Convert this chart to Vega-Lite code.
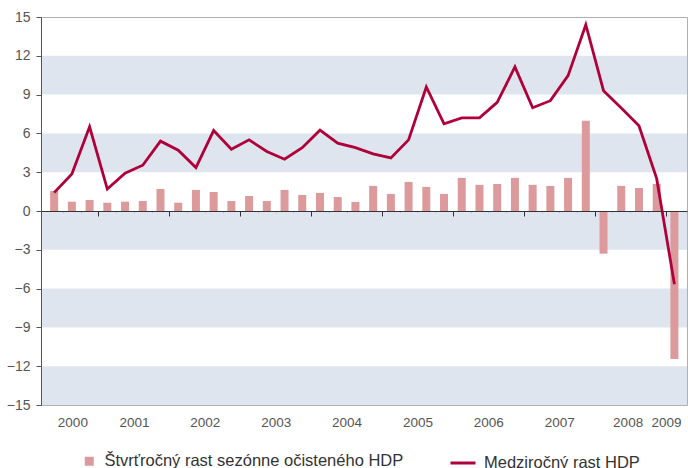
{
  "$schema": "https://vega.github.io/schema/vega-lite/v6.json",
  "autosize": {"type": "none"},
  "width": 646,
  "height": 388,
  "padding": {"left": 41, "top": 17, "right": 1, "bottom": 63},
  "background": "white",
  "config": {
    "font": "Liberation Sans, sans-serif",
    "view": {"stroke": "#b0b0b0", "strokeWidth": 1},
    "axisY": {"labelOverlap": false, "labelFlush": false}
  },
  "datasets": {
    "gdp": [
      {"t": 2000.375, "period": "2000 Q2", "qoq": 1.55, "yoy": 1.42},
      {"t": 2000.625, "period": "2000 Q3", "qoq": 0.72, "yoy": 2.87},
      {"t": 2000.875, "period": "2000 Q4", "qoq": 0.85, "yoy": 6.51},
      {"t": 2001.125, "period": "2001 Q1", "qoq": 0.64, "yoy": 1.7},
      {"t": 2001.375, "period": "2001 Q2", "qoq": 0.72, "yoy": 2.92},
      {"t": 2001.625, "period": "2001 Q3", "qoq": 0.77, "yoy": 3.54},
      {"t": 2001.875, "period": "2001 Q4", "qoq": 1.7, "yoy": 5.4},
      {"t": 2002.125, "period": "2002 Q1", "qoq": 0.64, "yoy": 4.7},
      {"t": 2002.375, "period": "2002 Q2", "qoq": 1.63, "yoy": 3.36},
      {"t": 2002.625, "period": "2002 Q3", "qoq": 1.47, "yoy": 6.22},
      {"t": 2002.875, "period": "2002 Q4", "qoq": 0.77, "yoy": 4.78},
      {"t": 2003.125, "period": "2003 Q1", "qoq": 1.16, "yoy": 5.5},
      {"t": 2003.375, "period": "2003 Q2", "qoq": 0.77, "yoy": 4.6},
      {"t": 2003.625, "period": "2003 Q3", "qoq": 1.63, "yoy": 4.0},
      {"t": 2003.875, "period": "2003 Q4", "qoq": 1.24, "yoy": 4.9},
      {"t": 2004.125, "period": "2004 Q1", "qoq": 1.4, "yoy": 6.25},
      {"t": 2004.375, "period": "2004 Q2", "qoq": 1.08, "yoy": 5.25},
      {"t": 2004.625, "period": "2004 Q3", "qoq": 0.7, "yoy": 4.9},
      {"t": 2004.875, "period": "2004 Q4", "qoq": 1.94, "yoy": 4.42},
      {"t": 2005.125, "period": "2005 Q1", "qoq": 1.32, "yoy": 4.1},
      {"t": 2005.375, "period": "2005 Q2", "qoq": 2.25, "yoy": 5.5},
      {"t": 2005.625, "period": "2005 Q3", "qoq": 1.86, "yoy": 9.59},
      {"t": 2005.875, "period": "2005 Q4", "qoq": 1.32, "yoy": 6.74},
      {"t": 2006.125, "period": "2006 Q1", "qoq": 2.56, "yoy": 7.2},
      {"t": 2006.375, "period": "2006 Q2", "qoq": 2.02, "yoy": 7.2},
      {"t": 2006.625, "period": "2006 Q3", "qoq": 2.09, "yoy": 8.4},
      {"t": 2006.875, "period": "2006 Q4", "qoq": 2.56, "yoy": 11.14},
      {"t": 2007.125, "period": "2007 Q1", "qoq": 2.02, "yoy": 7.98},
      {"t": 2007.375, "period": "2007 Q2", "qoq": 1.94, "yoy": 8.53},
      {"t": 2007.625, "period": "2007 Q3", "qoq": 2.56, "yoy": 10.47},
      {"t": 2007.875, "period": "2007 Q4", "qoq": 6.98, "yoy": 14.4},
      {"t": 2008.125, "period": "2008 Q1", "qoq": -3.3, "yoy": 9.3},
      {"t": 2008.375, "period": "2008 Q2", "qoq": 1.94, "yoy": 7.96},
      {"t": 2008.625, "period": "2008 Q3", "qoq": 1.78, "yoy": 6.59},
      {"t": 2008.875, "period": "2008 Q4", "qoq": 2.09, "yoy": 2.5},
      {"t": 2009.125, "period": "2009 Q1", "qoq": -11.45, "yoy": -5.66}
    ],
    "bands": [
      {"lo": 9, "hi": 12},
      {"lo": 3, "hi": 6},
      {"lo": -3, "hi": 0},
      {"lo": -9, "hi": -6},
      {"lo": -15, "hi": -12}
    ]
  },
  "layer": [
    {
      "data": {"name": "bands"},
      "mark": {"type": "rect", "color": "#dfe5ee"},
      "encoding": {
        "y": {
          "field": "lo",
          "type": "quantitative",
          "scale": {"domain": [-15, 15], "nice": false, "zero": false},
          "axis": {
            "title": null,
            "orient": "left",
            "values": [-15, -12, -9, -6, -3, 0, 3, 6, 9, 12, 15],
            "grid": false,
            "zindex": 1,
            "domainColor": "#555555",
            "tickColor": "#555555",
            "tickSize": 5,
            "labelPadding": 6,
            "labelFontSize": 14,
            "labelColor": "#555555",
            "labelOverlap": false
          }
        },
        "y2": {"field": "hi"}
      }
    },
    {
      "data": {"name": "gdp"},
      "mark": {"type": "bar", "size": 8},
      "encoding": {
        "x": {
          "field": "t",
          "type": "quantitative",
          "scale": {"domain": [2000.26, 2009.232], "nice": false, "zero": false},
          "axis": {
            "title": null,
            "orient": "bottom",
            "values": [2000.5, 2000.75, 2001, 2001.25, 2001.5, 2001.75, 2002, 2002.25, 2002.5, 2002.75, 2003, 2003.25, 2003.5, 2003.75, 2004, 2004.25, 2004.5, 2004.75, 2005, 2005.25, 2005.5, 2005.75, 2006, 2006.25, 2006.5, 2006.75, 2007, 2007.25, 2007.5, 2007.75, 2008, 2008.25, 2008.5, 2008.75, 2009],
            "labels": false,
            "grid": false,
            "offset": -194,
            "zindex": 1,
            "domainColor": "#333333",
            "tickColor": {"condition": {"test": "datum.value % 1 === 0", "value": "#333333"}, "value": "#c8c8c8"},
            "tickSize": {"condition": {"test": "datum.value % 1 === 0", "value": 5}, "value": 2},
            "tickWidth": 1
          }
        },
        "y": {
          "field": "qoq",
          "type": "quantitative",
          "axis": {
            "title": null,
            "orient": "left",
            "values": [-15, -12, -9, -6, -3, 0, 3, 6, 9, 12, 15],
            "grid": false,
            "zindex": 1,
            "domainColor": "#555555",
            "tickColor": "#555555",
            "tickSize": 5,
            "labelPadding": 6,
            "labelFontSize": 14,
            "labelColor": "#555555",
            "labelOverlap": false
          }
        },
        "fill": {
          "datum": "Štvrťročný rast sezónne očisteného HDP",
          "scale": {"range": ["#dc9a9c"]},
          "legend": {
            "title": null,
            "orient": "none",
            "legendX": 40,
            "legendY": 436,
            "symbolType": "square",
            "symbolSize": 81,
            "symbolStrokeWidth": 0,
            "labelFontSize": 16.5,
            "labelColor": "#333333",
            "labelOffset": 7,
            "padding": 0,
            "labelLimit": 500
          }
        }
      }
    },
    {
      "data": {"name": "gdp"},
      "mark": {"type": "line", "strokeWidth": 2.8, "strokeJoin": "miter"},
      "encoding": {
        "x": {
          "field": "t",
          "type": "quantitative",
          "axis": {
            "title": null,
            "orient": "bottom",
            "values": [2000.632, 2001.5, 2002.5, 2003.5, 2004.5, 2005.5, 2006.5, 2007.5, 2008.465, 2009.007],
            "labelExpr": "'' + floor(datum.value)",
            "ticks": false,
            "domain": false,
            "grid": false,
            "labelPadding": 10,
            "labelFontSize": 13.5,
            "labelColor": "#555555",
            "labelFlush": false,
            "labelOverlap": false
          }
        },
        "y": {
          "field": "yoy",
          "type": "quantitative",
          "axis": {
            "title": null,
            "orient": "left",
            "values": [-15, -12, -9, -6, -3, 0, 3, 6, 9, 12, 15],
            "grid": false,
            "zindex": 1,
            "domainColor": "#555555",
            "tickColor": "#555555",
            "tickSize": 5,
            "labelPadding": 6,
            "labelFontSize": 14,
            "labelColor": "#555555",
            "labelOverlap": false
          }
        },
        "stroke": {
          "datum": "Medziročný rast HDP",
          "scale": {"range": ["#b0003a"]},
          "legend": {
            "title": null,
            "orient": "none",
            "legendX": 408,
            "legendY": 432,
            "symbolType": "stroke",
            "symbolSize": 625,
            "symbolStrokeWidth": 3,
            "labelFontSize": 16.5,
            "labelColor": "#333333",
            "labelOffset": 7,
            "padding": 0,
            "labelLimit": 500
          }
        }
      }
    }
  ],
  "resolve": {"axis": {"x": "independent"}}
}
